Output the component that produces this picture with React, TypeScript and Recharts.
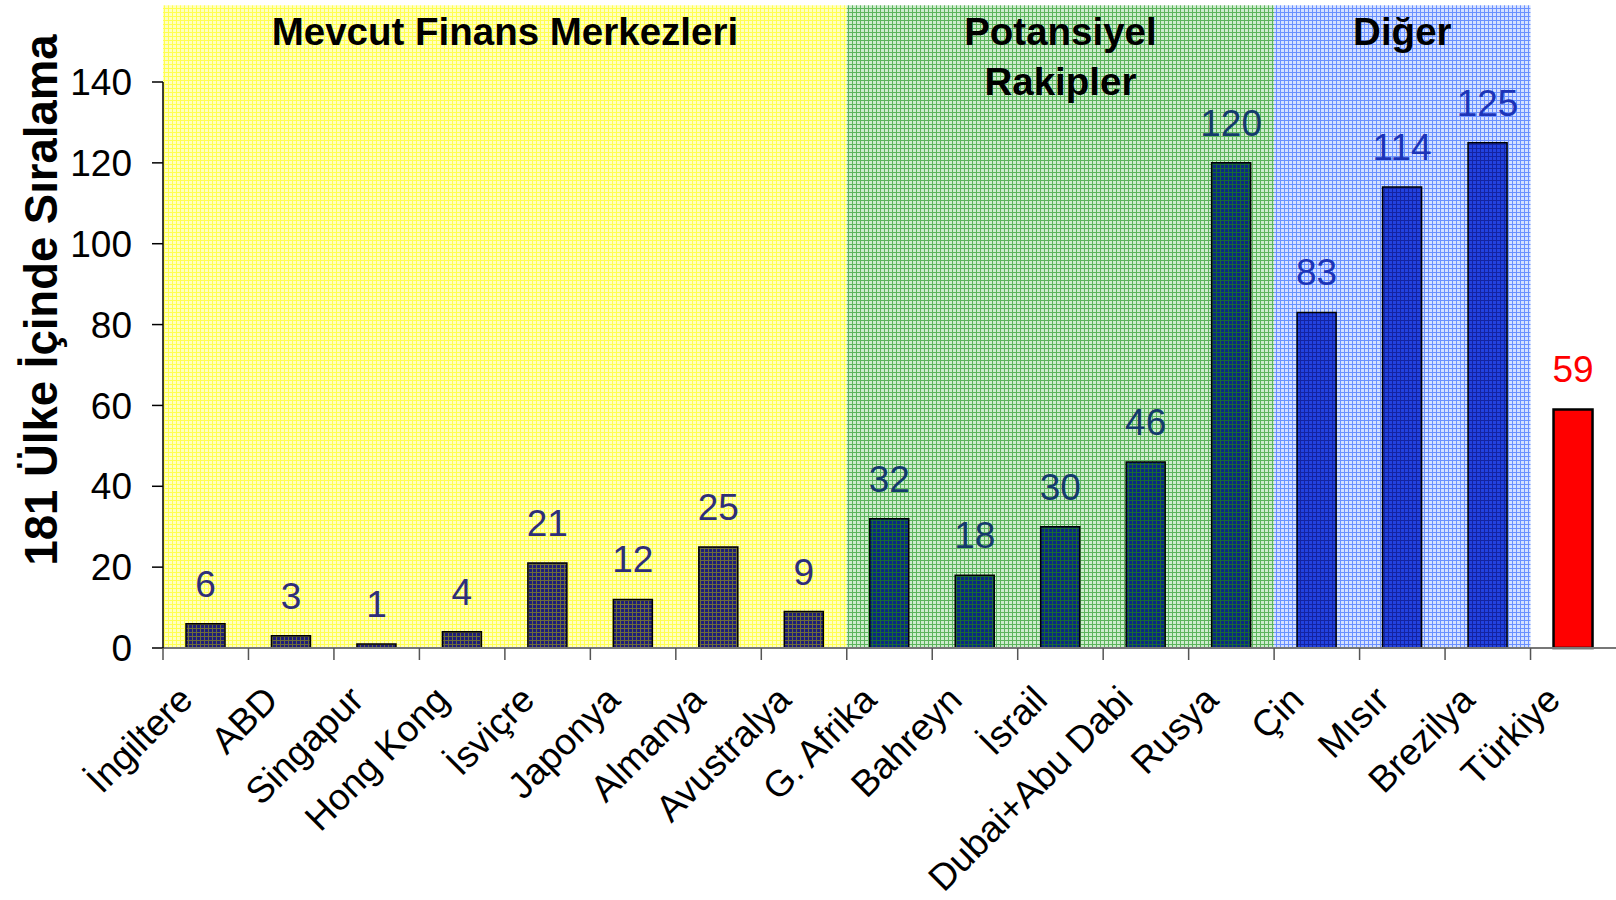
import { BarChart, Bar, XAxis, YAxis, Cell, ReferenceArea } from 'recharts'

const FONT = '"Liberation Sans", Arial, Helvetica, sans-serif'

const countries = [
  'İngiltere', 'ABD', 'Singapur', 'Hong Kong', 'İsviçre', 'Japonya', 'Almanya', 'Avustralya',
  'G. Afrika', 'Bahreyn', 'İsrail', 'Dubai+Abu Dabi', 'Rusya',
  'Çin', 'Mısır', 'Brezilya',
  'Türkiye',
]
const ranks = [6, 3, 1, 4, 21, 12, 25, 9, 32, 18, 30, 46, 120, 83, 114, 125, 59]
const groupOf = [
  'mevcut', 'mevcut', 'mevcut', 'mevcut', 'mevcut', 'mevcut', 'mevcut', 'mevcut',
  'rakip', 'rakip', 'rakip', 'rakip', 'rakip',
  'diger', 'diger', 'diger',
  'turkiye',
]
const yTicks = [0, 20, 40, 60, 80, 100, 120, 140]

// shaded bands behind the bars: first / last category + title lines
const bands = [
  { key: 'mevcut', from: 'İngiltere', to: 'Avustralya', title: ['Mevcut Finans Merkezleri'] },
  { key: 'rakip', from: 'G. Afrika', to: 'Rusya', title: ['Potansiyel', 'Rakipler'] },
  { key: 'diger', from: 'Çin', to: 'Brezilya', title: ['Diğer'] },
]

const bgFill: Record<string, string> = {
  mevcut: 'url(#bgYellow)',
  rakip: 'url(#bgGreen)',
  diger: 'url(#bgBlue)',
}
const barFill: Record<string, string> = {
  mevcut: 'url(#barYellow)',
  rakip: 'url(#barGreen)',
  diger: 'url(#barBlue)',
  turkiye: '#ff0000',
}
const labelColor: Record<string, string> = {
  mevcut: '#2e2e7a',
  rakip: '#143a6c',
  diger: '#1c34b8',
  turkiye: '#ff0000',
}

const data = countries.map((name, i) => ({ name, rank: ranks[i], group: groupOf[i] }))

const plaid = (id: string, base: string, line: string) => (
  <pattern id={id} width={4} height={4} patternUnits="userSpaceOnUse">
    <rect width={4} height={4} fill={base} />
    <path d="M0 0.5H4M0.5 0V4" stroke={line} strokeWidth={1} />
  </pattern>
)

const CountryTick = (props: any) => {
  const { x, y, payload } = props
  const edge = x - (payload.offset ?? 0)
  const tx = x - 11
  const ty = y + 54
  return (
    <g>
      <line x1={edge} y1={y} x2={edge} y2={y + 12} stroke="#555" strokeWidth={1.5} />
      <text
        x={tx}
        y={ty}
        transform={`rotate(-45, ${tx}, ${ty})`}
        textAnchor="end"
        fontSize={37}
        fontFamily={FONT}
        fill="#000"
      >
        {payload.value}
      </text>
    </g>
  )
}

const renderValue = (props: any) => {
  const { x, y, width, value, index } = props
  return (
    <text
      x={x + width / 2}
      y={y - 27}
      textAnchor="middle"
      fontSize={37}
      fontFamily={FONT}
      fill={labelColor[groupOf[index]] ?? '#000'}
    >
      {value}
    </text>
  )
}

const renderTitle = (lines: string[]) => (props: any) => {
  const { x, y, width } = props.viewBox
  return (
    <text textAnchor="middle" fontSize={38.5} fontWeight="bold" fontFamily={FONT} fill="#000">
      {lines.map((l, i) => (
        <tspan key={l} x={x + width / 2} y={y + 40 + i * 50}>
          {l}
        </tspan>
      ))}
    </text>
  )
}

export default function App() {
  return (
    <div style={{ width: 1616, height: 900, fontFamily: FONT, background: '#fff' }}>
      <style>{'body{margin:0}'}</style>
      <BarChart
        width={1616}
        height={900}
        data={data}
        margin={{ top: 82, right: 0, left: 0, bottom: 0 }}
        barSize={39}
      >
        <defs>
          {plaid('bgYellow', '#ffffc0', '#ffff50')}
          {plaid('bgGreen', '#cdeccd', '#5cb45c')}
          {plaid('bgBlue', '#d4e0ff', '#6a90ff')}
          {plaid('barYellow', '#1e1e78', '#6c6c38')}
          {plaid('barGreen', '#0a2a84', '#186a34')}
          {plaid('barBlue', '#2242e0', '#1424a0')}
        </defs>

        {bands.map((b) => (
          <ReferenceArea
            key={b.key}
            x1={b.from}
            x2={b.to}
            y1={0}
            y2={159}
            ifOverflow="visible"
            fill={bgFill[b.key]}
            fillOpacity={1}
            stroke="none"
            label={renderTitle(b.title)}
          />
        ))}

        <XAxis
          dataKey="name"
          height={252}
          interval={0}
          tickSize={0}
          tickMargin={0}
          tickLine={false}
          axisLine={{ stroke: '#777', strokeWidth: 2 }}
          tick={<CountryTick />}
        />
        <YAxis
          width={163}
          domain={[0, 140]}
          ticks={yTicks}
          interval={0}
          tickSize={11}
          tickMargin={20}
          axisLine={{ stroke: '#000', strokeWidth: 1.5 }}
          tickLine={{ stroke: '#000', strokeWidth: 1.5 }}
          tick={{ fill: '#000', fontSize: 37, fontFamily: FONT }}
          label={{
            content: () => (
              <text
                x={41}
                y={300}
                transform="rotate(-90, 41, 300)"
                textAnchor="middle"
                dominantBaseline="central"
                fontSize={45.5}
                fontWeight="bold"
                fontFamily={FONT}
                fill="#000"
              >
                181 Ülke İçinde Sıralama
              </text>
            ),
          }}
        />

        <Bar dataKey="rank" isAnimationActive={false} label={renderValue}>
          {data.map((d) => (
            <Cell
              key={d.name}
              fill={barFill[d.group]}
              stroke="#000"
              strokeWidth={d.group === 'turkiye' ? 2.5 : 1.5}
            />
          ))}
        </Bar>
      </BarChart>
    </div>
  )
}
